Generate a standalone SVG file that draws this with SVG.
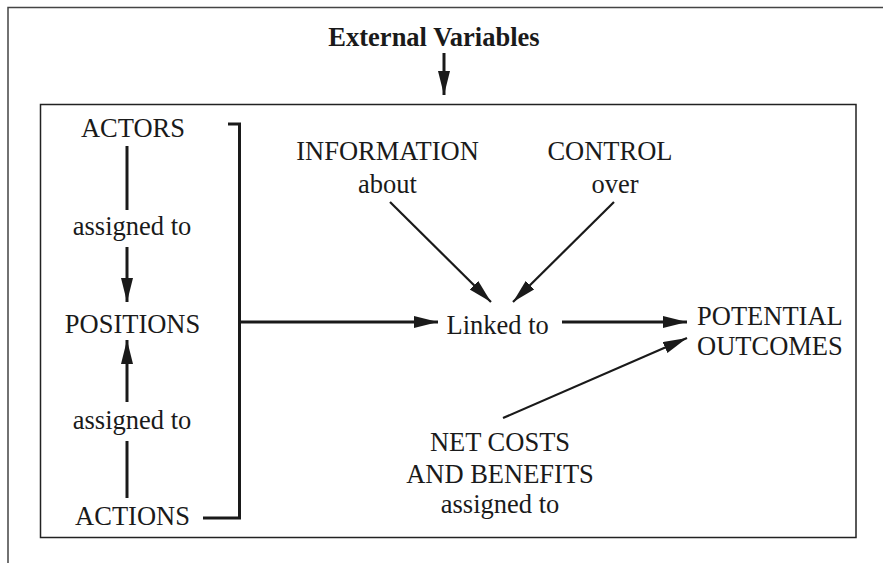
<svg xmlns="http://www.w3.org/2000/svg" width="883" height="563" viewBox="0 0 883 563">
<style>
text{font-family:'Liberation Serif','Times New Roman',Times,serif;font-size:26.5px;fill:#1a1a1a}
.c{text-anchor:middle}
.b{font-weight:bold}
.frame{fill:none;stroke:#444;stroke-width:1.5}
.box{fill:none;stroke:#222;stroke-width:1.5}
.w{fill:none;stroke:#1a1a1a;stroke-width:3}
.d{fill:none;stroke:#1a1a1a;stroke-width:2.2}
</style>
<defs>
<marker id="ah" markerUnits="userSpaceOnUse" markerWidth="26" markerHeight="14" refX="24" refY="6" orient="auto">
<path d="M0,0 L24,6 L0,12 z" fill="#1a1a1a"/>
</marker>
</defs>
<rect width="883" height="563" fill="#fff"/>
<g id="frame">
<path class="frame" d="M8,563 V7.5 H883"/>
<rect class="box" x="40.5" y="104.5" width="815.5" height="433"/>
</g>
<g id="connectors">
<path class="w" d="M444,53 V95" marker-end="url(#ah)"/>
<path class="w" d="M127,146 V210"/>
<path class="w" d="M127,247 V302" marker-end="url(#ah)"/>
<path class="w" d="M127,498 V441"/>
<path class="w" d="M127,402 V340" marker-end="url(#ah)"/>
<path class="w" d="M228,124 H239.5 V518 H203"/>
<path class="w" d="M239.5,322 H438" marker-end="url(#ah)"/>
<path class="w" d="M562,322 H687" marker-end="url(#ah)"/>
<path class="d" d="M390,202 L491,302" marker-end="url(#ah)"/>
<path class="d" d="M614,202 L513,302" marker-end="url(#ah)"/>
<path class="d" d="M503,418 L687,338" marker-end="url(#ah)"/>
</g>
<g font-family="Liberation Serif, serif">
<g id="external"><text class="c b" x="434" y="46" font-family="Liberation Serif">External Variables</text></g>
<g id="actors"><text class="c" x="133" y="137" font-family="Liberation Serif">ACTORS</text></g>
<g id="assigned1"><text class="c" x="132" y="235" font-family="Liberation Serif">assigned to</text></g>
<g id="positions"><text class="c" x="132.5" y="333" font-family="Liberation Serif">POSITIONS</text></g>
<g id="assigned2"><text class="c" x="132" y="429" font-family="Liberation Serif">assigned to</text></g>
<g id="actions"><text class="c" x="132.5" y="525" font-family="Liberation Serif">ACTIONS</text></g>
<g id="information"><text class="c" x="387.5" y="160" font-family="Liberation Serif">INFORMATION</text><text class="c" x="387.5" y="193" font-family="Liberation Serif">about</text></g>
<g id="control"><text class="c" x="610" y="160" font-family="Liberation Serif">CONTROL</text><text class="c" x="615" y="193" font-family="Liberation Serif">over</text></g>
<g id="linked"><text x="446.5" y="333.5" font-family="Liberation Serif">Linked to</text></g>
<g id="outcomes"><text x="697" y="325" font-family="Liberation Serif">POTENTIAL</text><text x="697" y="355" font-family="Liberation Serif">OUTCOMES</text></g>
<g id="costs"><text class="c" x="500" y="451" font-family="Liberation Serif">NET COSTS</text><text class="c" x="500" y="483" font-family="Liberation Serif">AND BENEFITS</text><text class="c" x="500" y="513" font-family="Liberation Serif">assigned to</text></g>
</g>
</svg>
